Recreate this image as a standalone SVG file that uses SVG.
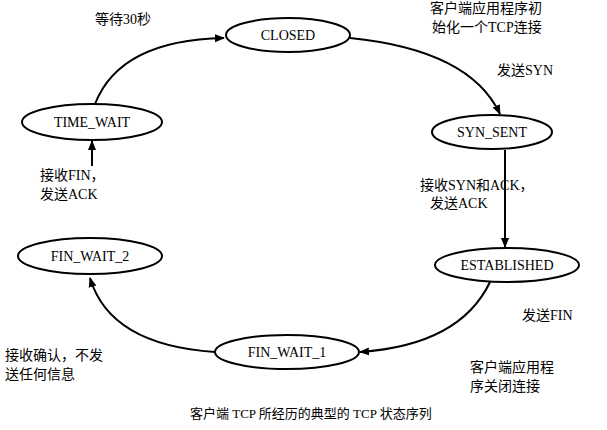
<svg xmlns="http://www.w3.org/2000/svg" width="607" height="430" viewBox="0 0 607 430">
<style>
ellipse{fill:#fff;stroke:#000;stroke-width:2}
.n{font-family:"Liberation Serif","Noto Sans CJK SC",serif;font-size:14px;text-anchor:middle}
.t{font-family:"Liberation Serif","Noto Sans CJK SC",serif;font-size:14px}
.c{fill:none;stroke:#000;stroke-width:2;marker-end:url(#a)}
</style>
<defs><marker id="a" markerWidth="10" markerHeight="10" refX="9" refY="5" orient="auto" markerUnits="userSpaceOnUse"><path d="M0,1 L10,5 L0,9 Z" fill="#000"/></marker></defs>
<rect width="607" height="430" fill="#fff"/>
<g id="connectors">
<path class="c" d="M95,104 Q120,40 224,38"/>
<path class="c" d="M350,38 Q470,50 500,114"/>
<path class="c" d="M505,150 L505,247"/>
<path class="c" d="M490,282 Q460,345 360,352"/>
<path class="c" d="M215,352 Q110,345 90,278"/>
<path class="c" d="M92,166 L92,141"/>
</g>
<g id="closed"><ellipse cx="288" cy="35" rx="62" ry="17"/><text class="n" x="288" y="40">CLOSED</text></g>
<g id="syn_sent"><ellipse cx="492" cy="132" rx="60" ry="17"/><text class="n" x="492" y="137">SYN_SENT</text></g>
<g id="established"><ellipse cx="507" cy="265" rx="72" ry="17"/><text class="n" x="507" y="270">ESTABLISHED</text></g>
<g id="fin_wait_1"><ellipse cx="287" cy="352" rx="72" ry="17"/><text class="n" x="287" y="357">FIN_WAIT_1</text></g>
<g id="fin_wait_2"><ellipse cx="90" cy="256" rx="72" ry="18"/><text class="n" x="90" y="261">FIN_WAIT_2</text></g>
<g id="time_wait"><ellipse cx="92" cy="122" rx="70" ry="18"/><text class="n" x="92" y="127">TIME_WAIT</text></g>
<g id="labels">
<text class="t" x="95" y="24">等待30秒</text>
<text class="t" x="430" y="13">客户端应用程序初</text>
<text class="t" x="432" y="32">始化一个TCP连接</text>
<text class="t" x="497" y="75">发送SYN</text>
<text class="t" x="420" y="190">接收SYN和ACK，</text>
<text class="t" x="430" y="208">发送ACK</text>
<text class="t" x="522" y="320">发送FIN</text>
<text class="t" x="470" y="372">客户端应用程</text>
<text class="t" x="470" y="391">序关闭连接</text>
<text class="t" x="5" y="360">接收确认，不发</text>
<text class="t" x="5" y="379">送任何信息</text>
<text class="t" x="40" y="180">接收FIN，</text>
<text class="t" x="40" y="199">发送ACK</text>
<text class="t" x="190" y="418" style="font-size:13px">客户端 TCP 所经历的典型的 TCP 状态序列</text>
</g>
</svg>
